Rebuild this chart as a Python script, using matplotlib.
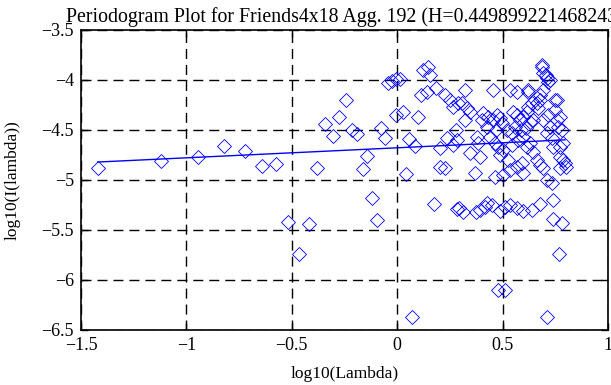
import numpy as np
import matplotlib
matplotlib.use('Agg')
import matplotlib.pyplot as plt

# periodogram points: log10(lambda), log10(I(lambda))
log_lambda = [
    -1.421, -1.120, -0.944, -0.820, -0.723, -0.643, -0.576, -0.517, -0.465, -0.419,
    -0.380, -0.341, -0.305, -0.274, -0.245, -0.213, -0.190, -0.164, -0.142, -0.120,
    -0.095, -0.078, -0.058, -0.042, -0.026, -0.007, 0.012, -0.005, 0.028, 0.044,
    0.056, 0.071, 0.085, 0.098, 0.113, 0.124, 0.140, 0.148, 0.156, 0.175,
    0.183, 0.203, 0.227, 0.203, 0.227, 0.250, 0.263, 0.288, 0.235, 0.279,
    0.266, 0.322, 0.306, 0.330, 0.345, 0.322, 0.283, 0.345, 0.385, 0.377,
    0.369, 0.393, 0.409, 0.432, 0.401, 0.425, 0.456, 0.535, 0.440, 0.464,
    0.480, 0.456, 0.472, 0.488, 0.496, 0.504, 0.488, 0.464, 0.504, 0.535,
    0.527, 0.551, 0.567, 0.559, 0.583, 0.598, 0.614, 0.622, 0.638, 0.622,
    0.543, 0.575, 0.598, 0.567, 0.591, 0.598, 0.630, 0.646, 0.614, 0.630,
    0.646, 0.661, 0.677, 0.693, 0.669, 0.661, 0.677, 0.685, 0.693, 0.709,
    0.717, 0.725, 0.693, 0.677, 0.693, 0.717, 0.725, 0.709, 0.733, 0.709,
    0.733, 0.748, 0.756, 0.756, 0.772, 0.740, 0.772, 0.788, 0.772, 0.788,
    0.796, 0.800, 0.772, 0.764, 0.780, 0.293, 0.282, 0.372, 0.418, 0.450,
    0.488, 0.535, 0.567, 0.595, 0.638, 0.678, 0.740, 0.741, 0.780, 0.769,
    0.480, 0.513, 0.709, 0.314, 0.393, 0.425, 0.512, 0.689, 0.705, 0.750,
    0.567, 0.622, 0.520, 0.545, 0.470, 0.585, 0.610,
]
log_power = [
    -4.877, -4.807, -4.767, -4.660, -4.710, -4.857, -4.840, -5.417, -5.743, -5.443,
    -4.877, -4.443, -4.557, -4.370, -4.195, -4.495, -4.540, -4.890, -4.760, -5.175,
    -5.400, -4.483, -4.580, -4.033, -4.010, -3.993, -3.993, -4.345, -4.317, -4.940,
    -4.585, -6.367, -4.660, -4.365, -4.150, -3.900, -4.117, -3.867, -3.950, -5.237,
    -4.083, -4.867, -4.883, -4.683, -4.150, -4.200, -4.267, -4.233, -4.583, -4.500,
    -4.650, -4.100, -4.233, -4.283, -4.317, -4.400, -4.600, -4.733, -4.633, -4.567,
    -4.933, -4.767, -4.333, -4.367, -4.400, -4.467, -4.100, -4.100, -4.567, -4.633,
    -4.667, -4.400, -4.350, -4.383, -4.433, -4.700, -4.750, -4.967, -4.950, -4.900,
    -4.800, -4.317, -4.350, -4.467, -4.400, -4.367, -4.317, -4.267, -4.233, -4.100,
    -4.533, -4.600, -4.567, -4.867, -4.833, -4.933, -4.417, -4.400, -4.667, -4.633,
    -4.717, -4.800, -4.850, -4.883, -4.283, -4.233, -4.200, -3.867, -3.933, -3.983,
    -4.017, -4.000, -4.100, -4.150, -4.400, -4.350, -4.467, -4.533, -4.583, -5.000,
    -5.033, -4.300, -4.200, -4.400, -4.367, -4.667, -4.667, -4.633, -4.767, -4.800,
    -4.833, -4.867, -4.883, -4.467, -4.500, -5.283, -5.293, -5.317, -5.273, -5.250,
    -5.307, -5.250, -5.283, -5.310, -5.300, -5.240, -5.200, -5.393, -5.427, -5.743,
    -6.100, -6.100, -6.367, -5.317, -5.300, -5.233, -5.267, -3.850, -3.950, -4.200,
    -4.117, -4.117, -4.500, -4.650, -4.500, -4.500, -4.480,
]

# fitted line (slope = 1 - 2H)
fit_slope = 0.1002
fit_intercept = -4.678
fit_x = [-1.421, 0.796]
title = 'Periodogram Plot for Friends4x18 Agg. 192 (H=0.449899221468243)'

plt.rcParams['font.family'] = ['Liberation Serif', 'DejaVu Serif']

fig = plt.figure(figsize=(6.11, 3.85), dpi=100)
ax = fig.add_axes([81 / 611, 55 / 385, 527 / 611, 300 / 385])

ax.plot(log_lambda, log_power, linestyle='none', marker='D', markersize=7,
        markerfacecolor='none', markeredgecolor='blue', markeredgewidth=0.6)
fx = np.array(fit_x)
ax.plot(fx, fit_intercept + fit_slope * fx, color='blue', linewidth=1.0)

ax.set_xlim(-1.5, 1)
ax.set_ylim(-6.5, -3.5)
ax.set_xticks([-1.5, -1, -0.5, 0, 0.5, 1])
ax.set_xticklabels(['\u22121.5', '\u22121', '\u22120.5', '0', '0.5', '1'])
ax.set_yticks([-6.5, -6, -5.5, -5, -4.5, -4, -3.5])
ax.set_yticklabels(['\u22126.5', '\u22126', '\u22125.5', '\u22125', '\u22124.5', '\u22124', '\u22123.5'])
ax.grid(True, color='black', linestyle=(0, (7.2, 4.3)), linewidth=1.0)
ax.tick_params(direction='in', top=True, right=True, length=5, width=1.0,
               labelsize=13, pad=5)
for s in ax.spines.values():
    s.set_linewidth(1.2)

ax.set_xlabel('log10(Lambda)', fontsize=12.5, labelpad=9)
ax.set_ylabel('log10(I(lambda))', fontsize=12.5, labelpad=15)
ax.set_title(title, fontsize=14.3, pad=6)

fig.savefig('out.png', dpi=100)
